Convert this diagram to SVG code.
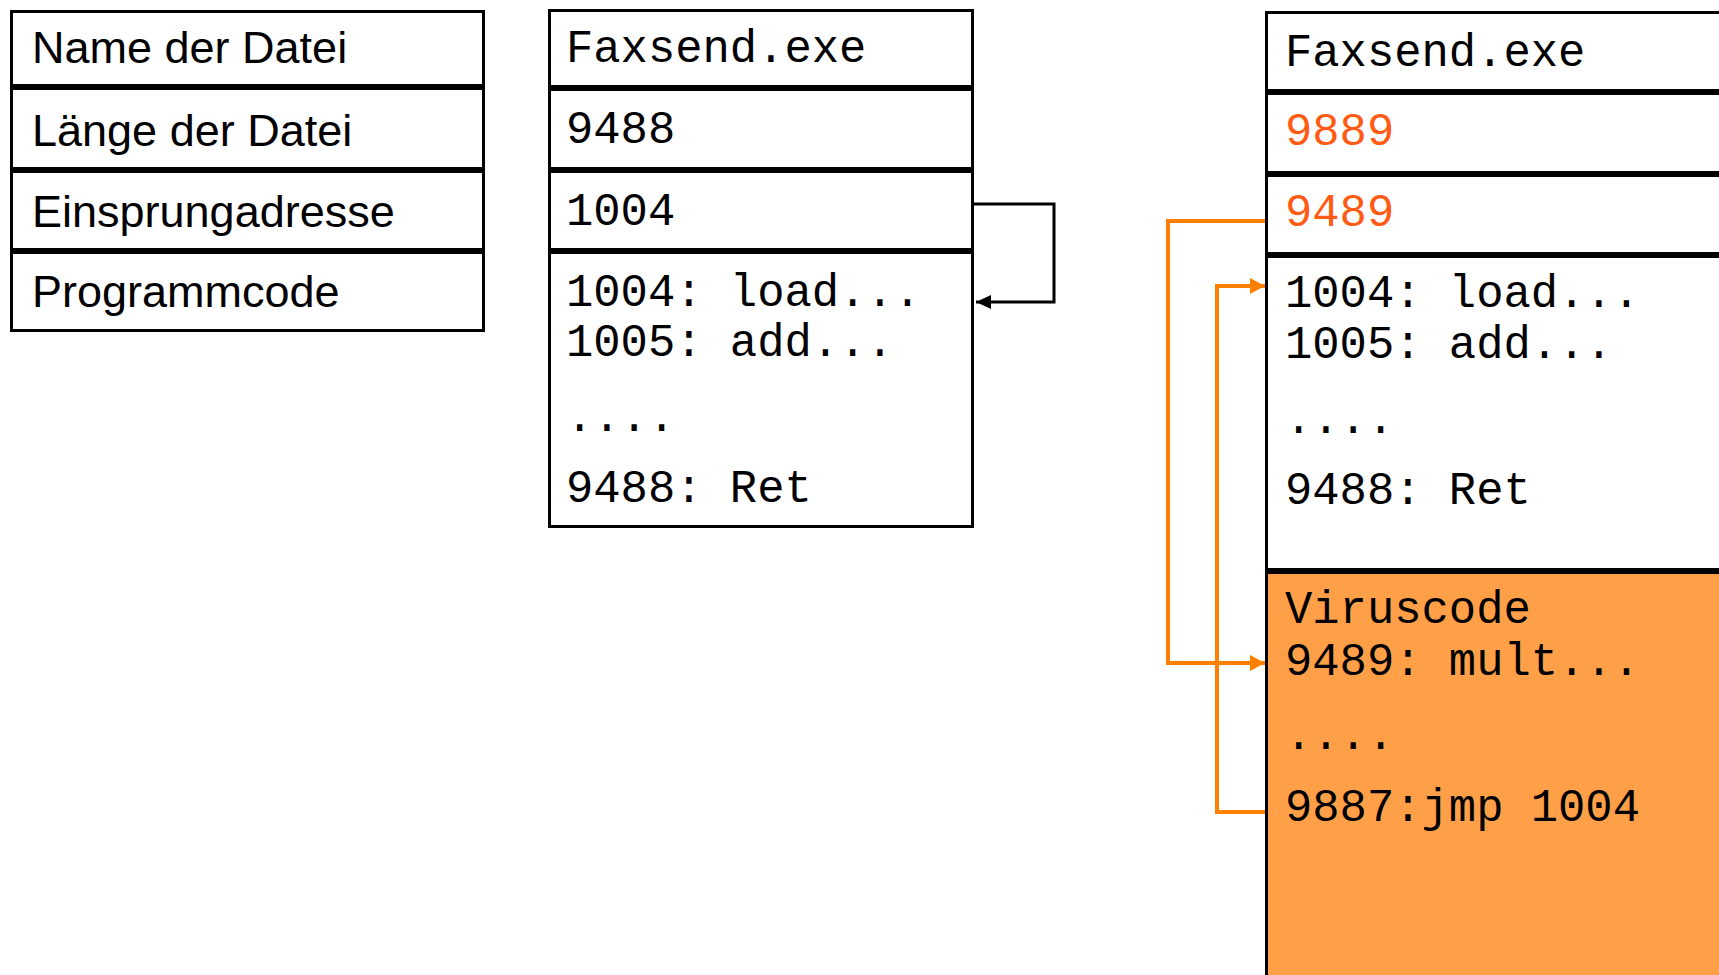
<svg xmlns="http://www.w3.org/2000/svg" width="1719" height="975" viewBox="0 0 1719 975">
<defs>
<style>
.box{fill:#fff;stroke:#000;stroke-width:3}
.vir{fill:#FFA048;stroke:#000;stroke-width:3}
.sans{font-family:"Liberation Sans",Arial,sans-serif;font-size:45px;fill:#000}
.mono{font-family:"Liberation Mono","Courier New",monospace;font-size:45.5px;fill:#000}
.red{fill:#FF5B14}
.blk{fill:none;stroke:#000;stroke-width:3}
.org{fill:none;stroke:#FF8000;stroke-width:4}
</style>
<marker id="ab" markerUnits="userSpaceOnUse" markerWidth="18" markerHeight="16" refX="15" refY="7" orient="auto">
<path d="M0,0 L15,7 L0,14 Z" fill="#000"/>
</marker>
<marker id="ao" markerUnits="userSpaceOnUse" markerWidth="18" markerHeight="18" refX="15" refY="8" orient="auto">
<path d="M0,0 L15,8 L0,16 Z" fill="#FF8000"/>
</marker>
</defs>
<g id="legend">
<rect class="box" x="11.5" y="11.5" width="472" height="74"/>
<rect class="box" x="11.5" y="88.5" width="472" height="80"/>
<rect class="box" x="11.5" y="171.5" width="472" height="78"/>
<rect class="box" x="11.5" y="252.5" width="472" height="78"/>
<text class="sans" x="32" y="63">Name der Datei</text>
<text class="sans" x="32" y="146">Länge der Datei</text>
<text class="sans" x="32" y="227">Einsprungadresse</text>
<text class="sans" x="32" y="307">Programmcode</text>
</g>
<g id="original">
<rect class="box" x="549.5" y="10.5" width="423" height="76"/>
<rect class="box" x="549.5" y="89.5" width="423" height="79"/>
<rect class="box" x="549.5" y="171.5" width="423" height="78"/>
<rect class="box" x="549.5" y="252.5" width="423" height="274"/>
<text class="mono" x="566" y="62">Faxsend.exe</text>
<text class="mono" x="566" y="143">9488</text>
<text class="mono" x="566" y="225">1004</text>
<text class="mono" x="566" y="306">1004: load...</text>
<text class="mono" x="566" y="356">1005: add...</text>
<text class="mono" x="566" y="431">....</text>
<text class="mono" x="566" y="502">9488: Ret</text>
</g>
<g id="infected">
<rect class="box" x="1266.5" y="12.5" width="470" height="78"/>
<rect class="box" x="1266.5" y="93.5" width="470" height="79"/>
<rect class="box" x="1266.5" y="175.5" width="470" height="78"/>
<rect class="box" x="1266.5" y="256.5" width="470" height="313"/>
<rect class="vir" x="1266.5" y="572.5" width="470" height="420"/>
<text class="mono" x="1285" y="66">Faxsend.exe</text>
<text class="mono red" x="1285" y="145">9889</text>
<text class="mono red" x="1285" y="226">9489</text>
<text class="mono" x="1285" y="307">1004: load...</text>
<text class="mono" x="1285" y="358">1005: add...</text>
<text class="mono" x="1285" y="433">....</text>
<text class="mono" x="1285" y="504">9488: Ret</text>
<text class="mono" x="1285" y="623">Viruscode</text>
<text class="mono" x="1285" y="675">9489: mult...</text>
<text class="mono" x="1285" y="749">....</text>
<text class="mono" x="1285" y="821">9887:jmp 1004</text>
</g>
<g id="connectors">
<polyline class="blk" points="974,204 1054,204 1054,302 976,302" marker-end="url(#ab)"/>
<polyline class="org" points="1265,221 1168,221 1168,663 1265,663" marker-end="url(#ao)"/>
<polyline class="org" points="1265,812 1217,812 1217,286 1265,286" marker-end="url(#ao)"/>
</g>
</svg>
